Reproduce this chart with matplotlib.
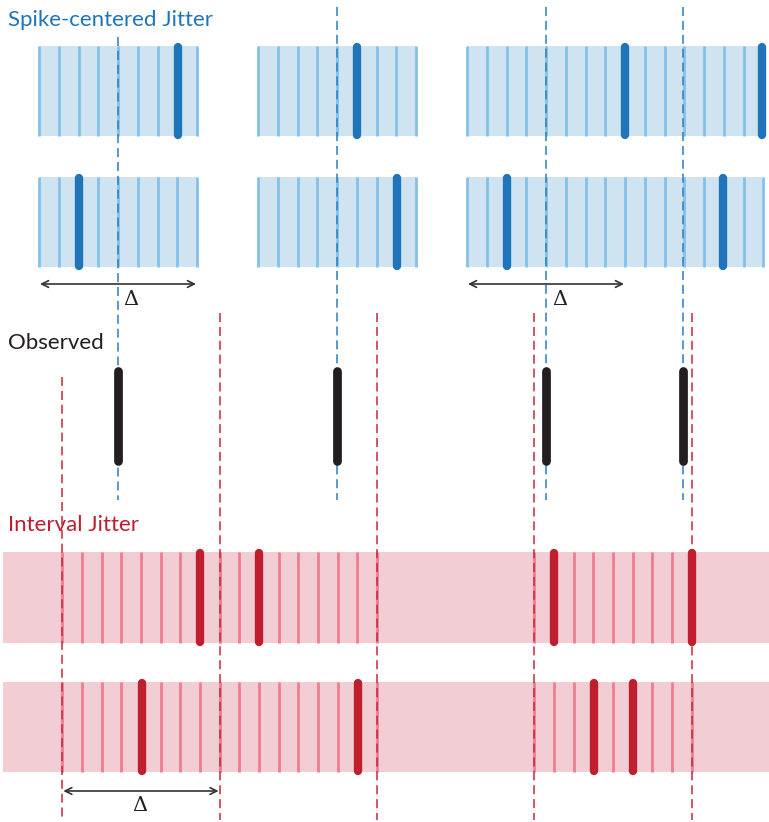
import numpy as np
import matplotlib
matplotlib.use("Agg")
import matplotlib.pyplot as plt

plt.rcParams['font.family'] = ['Lato', 'DejaVu Sans']
plt.rcParams['lines.scale_dashes'] = False

# time axis in arbitrary units (one unit = one pixel of the original)
observed = [118, 337, 546, 683]
delta = 158.0
n_bins = 8

# spike-centered jitter surrogates (one value per observed spike)
sc_rows = [
    [177.5, 357, 624.5, 762],
    [78.5, 396.5, 506.5, 723],
]

# interval jitter
iv_start = 62.3
iv_width = 157.3
iv_count = 5
iv_rows = [
    [200.3, 258.7, 553.7, 691.7],
    [142, 357.7, 594, 633.3],
]

blue_dark = '#1f75ba'
blue_fill = '#cfe3f0'
blue_line = '#84c1ea'
red_dark = '#be1e2d'
red_fill = '#f2cdd4'
red_line = '#f17c8e'
red_dash = '#c8283c'
blue_dash = '#2a7fc1'
black = '#231f20'

fig = plt.figure(figsize=(7.69, 8.22), dpi=100)
ax = fig.add_axes([0, 0, 1, 1])
ax.set_xlim(0, 769)
ax.set_ylim(822, 0)
ax.axis('off')

sc_band = [(46, 136), (177, 267)]
iv_band = [(552, 643), (682, 772)]

# --- spike-centered jitter ---
# windows around each spike, merged when they overlap
wins = sorted([(s - delta / 2, s + delta / 2) for s in observed])
merged = []
for a, b in wins:
    if merged and a <= merged[-1][1]:
        merged[-1][1] = max(merged[-1][1], b)
    else:
        merged.append([a, b])
step = delta / n_bins
for (y0, y1), row in zip(sc_band, sc_rows):
    for a, b in merged:
        ax.fill_between([a, b], y0, y1, color=blue_fill, lw=0, zorder=1)
        for gx in np.arange(a, b + step / 2, step):
            ax.plot([gx, gx], [y0, y1], color=blue_line, lw=2.0, zorder=2,
                    solid_capstyle='butt')
    for s in row:
        ax.plot([s, s], [y0 + 1, y1 - 1], color=blue_dark, lw=6.0, zorder=4,
                solid_capstyle='round')

# blue dashed lines through observed spikes
for i, s in enumerate(observed):
    top = 37 if i == 0 else 7
    ax.plot([s, s], [top, 500], color=blue_dash, lw=1.1, dashes=(6.5, 3.5),
            zorder=3)

# delta arrows (spike-centered)
for s, xl in [(observed[0], 131), (observed[2], 560)]:
    ax.annotate('', xy=(s - delta / 2 + 1, 284), xytext=(s + delta / 2 - 1, 284),
                arrowprops=dict(arrowstyle='<->', color='#333333', lw=1.2,
                                mutation_scale=12, shrinkA=0, shrinkB=0))
    ax.text(xl, 299, '\u0394', family=['DejaVu Serif'], fontsize=15,
            ha='center', va='center', color=black)

# --- observed spikes ---
for s in observed:
    ax.plot([s, s], [371, 461], color=black, lw=6.3, solid_capstyle='round',
            zorder=4)

# --- interval jitter ---
edges = [iv_start + k * iv_width for k in range(iv_count)]
ax.fill_between([3, 769], iv_band[0][0], iv_band[0][1], color=red_fill, lw=0,
                zorder=1)
ax.fill_between([3, 769], iv_band[1][0], iv_band[1][1], color=red_fill, lw=0,
                zorder=1)
istep = iv_width / n_bins
used = sorted(set(int((s - iv_start) // iv_width) for s in observed))
for (y0, y1), row in zip(iv_band, iv_rows):
    for k in used:
        a = edges[k]
        for gx in np.arange(a, a + iv_width + istep / 2, istep):
            ax.plot([gx, gx], [y0, y1], color=red_line, lw=2.0, zorder=2,
                    solid_capstyle='butt')
    for s in row:
        ax.plot([s, s], [y0 + 1, y1 - 1], color=red_dark, lw=6.0, zorder=4,
                solid_capstyle='round')

for i, e in enumerate(edges):
    top = 377 if i == 0 else 313
    ax.plot([e, e], [top, 820], color=red_dash, lw=1.1, dashes=(6.5, 3.5),
            zorder=3)

ax.annotate('', xy=(edges[0] + 1, 791), xytext=(edges[1] - 1, 791),
            arrowprops=dict(arrowstyle='<->', color='#333333', lw=1.2,
                            mutation_scale=12, shrinkA=0, shrinkB=0))
ax.text(140, 805, '\u0394', family=['DejaVu Serif'], fontsize=15,
        ha='center', va='center', color=black)

# titles
ax.text(8, 20, 'Spike-centered Jitter', color=blue_dark, fontsize=16,
        ha='left', va='center')
ax.text(8, 343, 'Observed', color=black, fontsize=16, ha='left', va='center')
ax.text(8, 525, 'Interval Jitter', color=red_dark, fontsize=16, ha='left',
        va='center')

fig.savefig('out.png', dpi=100)
